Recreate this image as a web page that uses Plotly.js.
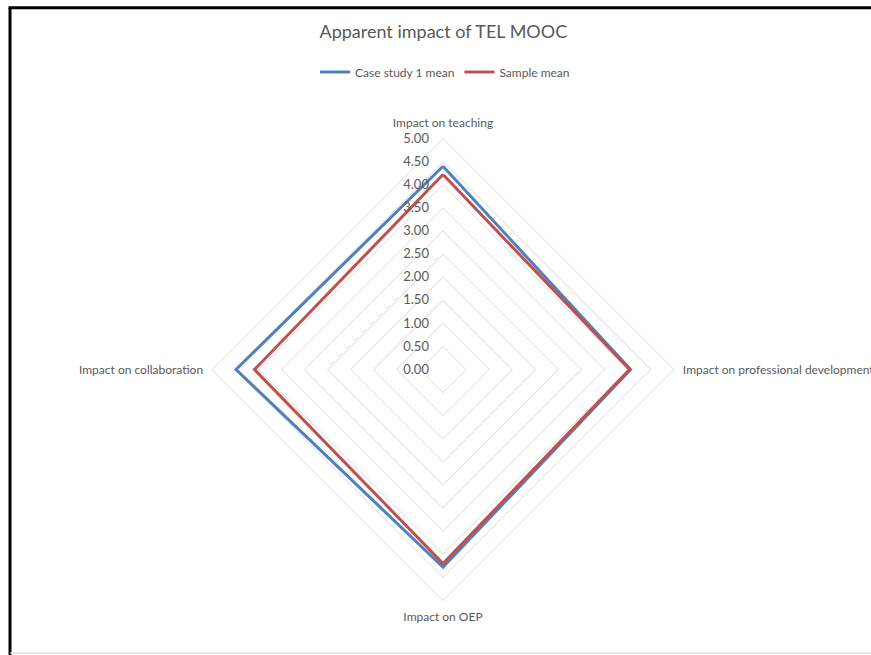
<!DOCTYPE html>
<html>
<head>
<meta charset="utf-8">
<script src="https://cdn.plot.ly/plotly-3.0.1.min.js"></script>
<style>
  html, body { margin: 0; padding: 0; background: #ffffff; }
  #chart { width: 871px; height: 655px; }
</style>
</head>
<body>
<div id="chart"></div>
<script>
// Survey dimensions (clockwise from the top)
const categories = [
  'Impact on teaching',
  'Impact on professional development',
  'Impact on OEP',
  'Impact on collaboration'
];

// Mean ratings on a 0–5 scale
const caseStudyMean = [4.40, 4.06, 4.28, 4.48];
const sampleMean = [4.22, 4.04, 4.20, 4.08];

const radialTicks = [0, 0.5, 1, 1.5, 2, 2.5, 3, 3.5, 4, 4.5, 5];

// Close each polygon by repeating the first point
const closed = arr => arr.concat([arr[0]]);

const textColor = '#595959';
const font = 'Lato, "Open Sans", sans-serif';

const traces = [
  {
    type: 'scatterpolar',
    mode: 'lines',
    name: 'Case study 1 mean',
    r: closed(caseStudyMean),
    theta: closed(categories),
    line: { color: '#4f81bd', width: 3 },
    hoverinfo: 'skip'
  },
  {
    type: 'scatterpolar',
    mode: 'lines',
    name: 'Sample mean',
    r: closed(sampleMean),
    theta: closed(categories),
    line: { color: '#c0504d', width: 3 },
    hoverinfo: 'skip'
  }
];

const layout = {
  width: 871,
  height: 655,
  margin: { l: 0, r: 0, t: 0, b: 0 },
  paper_bgcolor: '#ffffff',
  font: { family: font, color: textColor, size: 12 },
  title: {
    text: 'Apparent impact of TEL MOOC',
    font: { family: font, size: 18, color: textColor },
    x: 0.509, xanchor: 'center',
    y: 0.951, yanchor: 'middle'
  },
  showlegend: true,
  legend: {
    orientation: 'h',
    x: 0.511, xanchor: 'center',
    y: 0.89, yanchor: 'middle',
    font: { family: font, size: 12, color: textColor },
    itemwidth: 30,
    bgcolor: 'rgba(0,0,0,0)'
  },
  polar: {
    domain: { x: [0.2434, 0.7738], y: [0.0832, 0.7885] },
    bgcolor: '#ffffff',
    gridshape: 'linear',
    radialaxis: {
      range: [0, 5],
      tickvals: radialTicks,
      tickformat: '.2f',
      angle: 90,
      side: 'counterclockwise',
      tickangle: 90,
      showline: false,
      ticks: 'outside',
      ticklen: 9,
      tickcolor: 'rgba(0,0,0,0)',
      gridcolor: '#d9d9d9',
      gridwidth: 1,
      tickfont: { family: font, size: 13, color: textColor }
    },
    angularaxis: {
      rotation: 90,
      direction: 'clockwise',
      showgrid: false,
      showline: true,
      linecolor: '#d9d9d9',
      linewidth: 1,
      ticks: 'outside',
      ticklen: 6,
      tickcolor: 'rgba(0,0,0,0)',
      tickfont: { family: font, size: 12, color: textColor }
    }
  },
  shapes: [
    // dark frame along the left and top edges
    { type: 'line', xref: 'paper', yref: 'paper', x0: 0.0115, x1: 0.0115, y0: 0, y1: 0.988,
      line: { color: '#000000', width: 3 } },
    { type: 'line', xref: 'paper', yref: 'paper', x0: 0.0098, x1: 1, y0: 0.988, y1: 0.988,
      line: { color: '#000000', width: 3 } },
    // light rule along the bottom
    { type: 'line', xref: 'paper', yref: 'paper', x0: 0.012, x1: 1, y0: 0.003, y1: 0.003,
      line: { color: '#e6e6e6', width: 2 } }
  ]
};

Plotly.newPlot('chart', traces, layout, { displayModeBar: false, staticPlot: true });
</script>
</body>
</html>
